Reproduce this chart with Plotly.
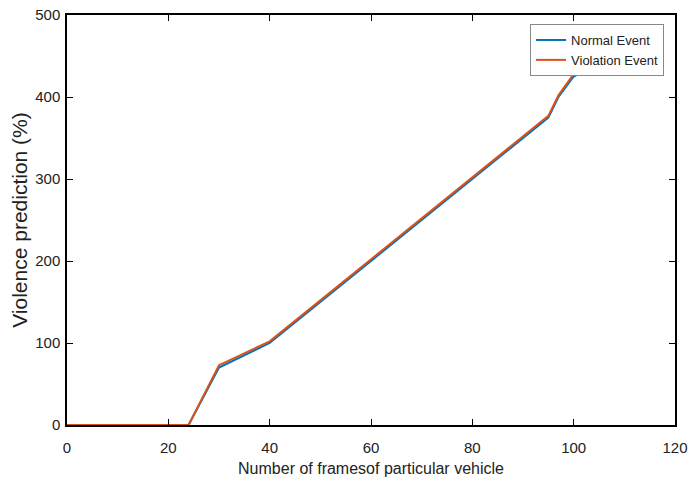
import plotly.graph_objects as go

frames = [0, 24, 30, 40, 50, 60, 70, 80, 90, 95, 97, 100, 105]
normal_event = [0, 0, 70, 100, 150, 200, 250, 300, 350, 375, 400, 425, 440]
violation_event = [0, 0, 73, 102, 152, 202, 252, 303, 352, 377, 402, 428, 443]

x_ticks = [0, 20, 40, 60, 80, 100, 120]
y_ticks = [0, 100, 200, 300, 400, 500]

FONT = "Liberation Sans Narrow, Liberation Sans, Arial, sans-serif"

fig = go.Figure()
fig.add_trace(go.Scatter(x=frames, y=normal_event, mode="lines", name="Normal Event",
                         line=dict(color="#0072BD", width=2)))
fig.add_trace(go.Scatter(x=frames, y=violation_event, mode="lines", name="Violation Event",
                         line=dict(color="#D95319", width=2)))

axis_common = dict(showgrid=False, zeroline=False, showline=True, linecolor="black",
                   linewidth=1.5, mirror="ticks", ticks="inside", ticklen=6,
                   tickwidth=1.2, tickcolor="black", ticklabeloverflow="allow",
                   automargin=False,
                   tickfont=dict(family=FONT, size=15, color="#222"))

fig.update_xaxes(range=[0, 120], tickvals=x_ticks, ticklabelstandoff=8,
                 title=dict(text="Number of framesof particular vehicle",
                            font=dict(family=FONT, size=16, color="#222"), standoff=8),
                 **axis_common)
fig.update_yaxes(range=[0, 500], tickvals=y_ticks, ticklabelstandoff=2,
                 title=dict(text="Violence prediction (%)",
                            font=dict(family=FONT, size=21, color="#222"), standoff=2),
                 **axis_common)

fig.update_layout(
    width=688, height=482,
    margin=dict(l=67, r=13, t=15, b=57),
    plot_bgcolor="white", paper_bgcolor="white",
    showlegend=True,
    legend=dict(x=0.982, y=0.978, xanchor="right", yanchor="top",
                bgcolor="white", bordercolor="#888", borderwidth=1,
                font=dict(family=FONT, size=13, color="#222"),
                tracegroupgap=0, itemwidth=30),
)

fig.write_html("out.html")
